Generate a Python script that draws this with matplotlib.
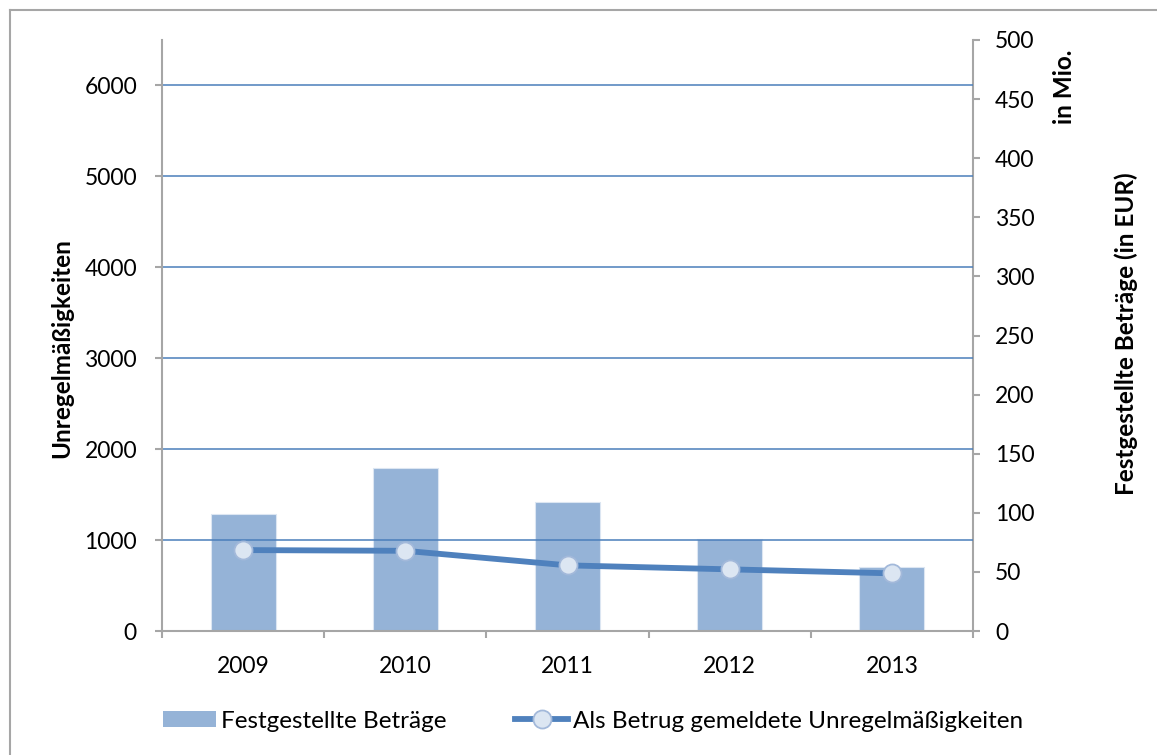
import matplotlib
matplotlib.use("Agg")
import matplotlib.pyplot as plt
from matplotlib.lines import Line2D
from matplotlib.patches import Patch

plt.rcParams['font.family'] = ['Lato', 'DejaVu Sans']

years = ["2009", "2010", "2011", "2012", "2013"]
betraege_mio = [99, 138, 109, 78, 54]           # right axis (Mio. EUR)
unregelmaessigkeiten = [890, 882, 722, 678, 634]  # left axis (count)
left_ticks = [0, 1000, 2000, 3000, 4000, 5000, 6000]
right_ticks = [0, 50, 100, 150, 200, 250, 300, 350, 400, 450, 500]

W, H = 1157, 755
fig = plt.figure(figsize=(W / 100, H / 100), dpi=100)
ax = fig.add_axes([162 / W, 1 - 631 / H, (973 - 162) / W, (631 - 40) / H])
ax2 = ax.twinx()

x = list(range(len(years)))
bar_color = "#95B3D7"
line_color = "#4F81BD"
grid_color = "#4A7EBB"
marker_face = "#DCE6F2"
marker_edge = "#A3B9DA"
grey = "#A6A6A6"
FS = 16.5

# bars on right axis (drawn below line)
ax2.bar(x, betraege_mio, width=0.4, color=bar_color, edgecolor="#DCE6F2", linewidth=0.8, zorder=2)
ax2.set_ylim(0, 500)
ax2.set_yticks(right_ticks)

ax.set_ylim(0, 6500)
ax.set_yticks(left_ticks)
ax.set_xlim(-0.5, len(years) - 0.5)
for t in left_ticks[1:]:
    ax.axhline(t, color=grid_color, linewidth=1.1, zorder=1)

ax.set_zorder(ax2.get_zorder() + 1)
ax.patch.set_visible(False)
ax.plot(x, unregelmaessigkeiten, color=line_color, linewidth=4.2, marker="o",
        markersize=13, markerfacecolor=marker_face, markeredgecolor=marker_edge,
        markeredgewidth=1.3, zorder=5, solid_capstyle="butt")

# axes styling
for a in (ax, ax2):
    a.spines['top'].set_visible(False)
    for s in ('left', 'right', 'bottom'):
        a.spines[s].set_color(grey)
        a.spines[s].set_linewidth(1.5)
ax.spines['right'].set_visible(False)
ax2.spines['left'].set_visible(False)
ax2.spines['bottom'].set_visible(False)

ax.set_xticks([i - 0.5 for i in range(len(years) + 1)])
ax.set_xticklabels([])
ax.set_xticks(x, minor=True)
ax.set_xticklabels(years, minor=True)
ax.tick_params(axis='x', which='major', length=5, color=grey, width=1.5, direction='out')
ax.tick_params(axis='x', which='minor', length=0, labelsize=FS, pad=18)
ax.tick_params(axis='y', length=5, color=grey, width=1.5, labelsize=FS, pad=13)
ax2.tick_params(axis='y', length=5, color=grey, width=1.5, labelsize=FS, pad=11)

fig.text(62 / W, 1 - 348 / H, "Unregelmäßigkeiten", rotation=90, fontsize=17.5,
         fontweight='bold', ha='center', va='center')
fig.text(1126 / W, 1 - 334 / H, "Festgestellte Beträge (in EUR)", rotation=90, fontsize=17.5,
         fontweight='bold', ha='center', va='center')
fig.text(1064 / W, 1 - 87 / H, "in Mio.", rotation=90, fontsize=17.5,
         fontweight='bold', ha='center', va='center')

handles = [Patch(facecolor=bar_color, edgecolor="none"),
           Line2D([0], [0], color=line_color, linewidth=4.2, marker="o", markersize=13,
                  markerfacecolor=marker_face, markeredgecolor=marker_edge, markeredgewidth=1.3)]
fig.legend(handles, ["Festgestellte Beträge", "Als Betrug gemeldete Unregelmäßigkeiten"],
           loc='center left', bbox_to_anchor=(163 / W, 1 - 721 / H), ncol=2, frameon=False,
           fontsize=17.5, handlelength=2.2, handleheight=0.6, handletextpad=0.2,
           columnspacing=2.8, borderpad=0, borderaxespad=0)

# outer frame (left and top edges visible)
fig.add_artist(Line2D([10 / W, 10 / W], [0, 1 - 10 / H], transform=fig.transFigure, color=grey, linewidth=1.5))
fig.add_artist(Line2D([10 / W, 1], [1 - 10 / H, 1 - 10 / H], transform=fig.transFigure, color=grey, linewidth=1.5))

fig.savefig("out.png", dpi=100, facecolor="white")
